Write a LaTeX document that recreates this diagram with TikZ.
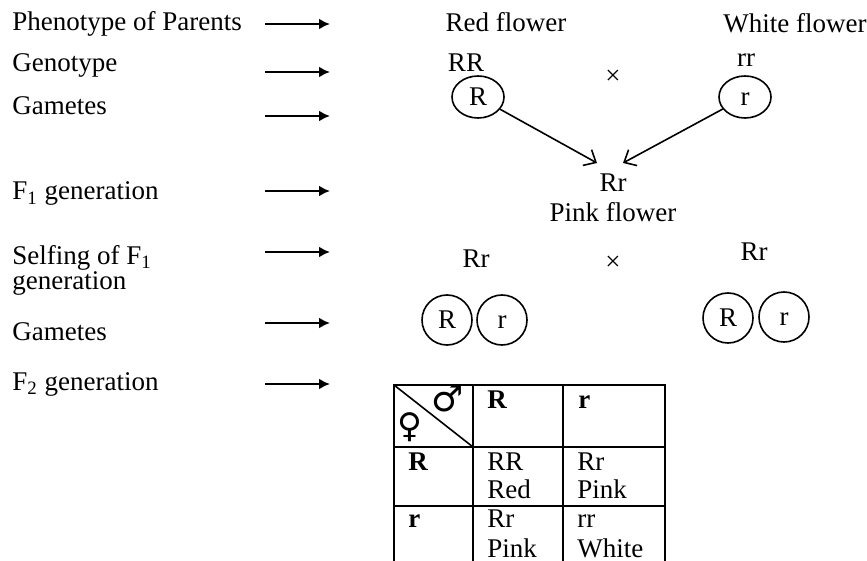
\documentclass[tikz,border=0pt]{standalone}
\usepackage{fontspec}
\setmainfont{Liberation Serif}
\newfontfamily\symfont{DejaVu Sans}
\usetikzlibrary{arrows.meta, shapes.geometric}

\begin{document}
\begin{tikzpicture}[
        x=0.5pt, y=-0.5pt,
        font=\fontsize{13.5}{12.5}\selectfont,
        label/.style={
            anchor=base west,
            inner sep=0pt,
            align=left
        },
        txt/.style={
            anchor=base,
            inner sep=0pt
        },
        pointer/.style={
            -{Latex[length=5.5pt,width=5.5pt]},
            line width=1.4pt
        },
        parent/.style={
            ellipse,
            draw,
            line width=0.8pt,
            minimum width=26pt,
            minimum height=21pt,
            inner sep=0pt,
            text height=8.8pt,
            text depth=0pt
        },
        gamete/.style={
            circle,
            draw,
            line width=0.8pt,
            minimum size=25pt,
            inner sep=0pt,
            text height=8.8pt,
            text depth=0pt
        },
        fuse/.style={
            -{Straight Barb[length=5pt,width=9pt]},
            line width=0.8pt
        },
        cell/.style={
            anchor=base west,
            inner sep=0pt
        }
    ]
    \useasboundingbox (0,0) rectangle (867,561);

    % Steps on the left
    \node[label] (phen) at (12,31) {Phenotype of Parents};
    \node[label] (geno) at (12,72) {Genotype};
    \node[label] (gam1) at (12,115) {Gametes};
    \node[label] (fone) at (12,200) {F\textsubscript{1} generation};
    \node[label] (self) at (12,289) {Selfing of F\textsubscript{1}\\generation};
    \node[label] (gam2) at (12,340) {Gametes};
    \node[label] (ftwo) at (12,390) {F\textsubscript{2} generation};

    % Arrows after the steps
    \foreach \y [count=\i] in {24,72,116,191,252,323,384} {
        \coordinate (s\i) at (265,\y);
        \coordinate (e\i) at (330,\y);
        \draw[pointer] (s\i) -- (e\i);
    }

    % Parents
    \node[txt] (red) at (506,32) {Red flower};
    \node[txt] (white) at (795,33) {White flower};
    \node[txt] (RR) at (466,72) {RR};
    \node[txt] (rr) at (746,67) {rr};
    \node (x1) at (613,77) {×};
    \node[parent] (gR) at (478,97) {R};
    \node[parent] (gr) at (745,97) {r};

    % F1
    \coordinate (tipL) at (597,163);
    \coordinate (tipR) at (623,163);
    \draw[fuse] (gR) -- (tipL);
    \draw[fuse] (gr) -- (tipR);
    \node[txt] (Rr) at (613,192) {Rr};
    \node[txt] (pink) at (613,222) {Pink flower};

    % Selfing of F1
    \node[txt] (RrL) at (476,268) {Rr};
    \node (x2) at (613,263) {×};
    \node[txt] (RrR) at (754,261) {Rr};
    \node[gamete] (g1) at (447,320) {R};
    \node[gamete] (g2) at (502,320) {r};
    \node[gamete] (g3) at (728,318) {R};
    \node[gamete] (g4) at (784,317) {r};

    % Checkerboard
    \draw[line width=0.8pt] (394,561) -- (394,385) -- (665,385) -- (665,561);
    \draw[line width=0.8pt] (473,385) -- (473,561);
    \draw[line width=0.8pt] (563,385) -- (563,561);
    \draw[line width=0.8pt] (394,447) -- (665,447);
    \draw[line width=0.8pt] (394,506) -- (665,506);
    \draw[line width=0.8pt] (394,385) -- (473,447);
    \node (male) at (448,399) {\symfont\fontsize{18}{18}\selectfont ♂};
    \node (female) at (410,427) {\symfont\fontsize{17}{17}\selectfont ♀};

    \node[cell] (hR) at (487,408) {\textbf{R}};
    \node[cell] (hr) at (578,408) {\textbf{r}};
    \node[cell] (vR) at (408,470) {\textbf{R}};
    \node[cell] (vr) at (408,527) {\textbf{r}};

    \node[cell] (c11) at (487,470) {RR};
    \node[cell] (c11b) at (487,498) {Red};
    \node[cell] (c12) at (577,470) {Rr};
    \node[cell] (c12b) at (577,498) {Pink};
    \node[cell] (c21) at (487,527) {Rr};
    \node[cell] (c21b) at (487,557) {Pink};
    \node[cell] (c22) at (577,527) {rr};
    \node[cell] (c22b) at (577,557) {White};

\end{tikzpicture}
\end{document}
